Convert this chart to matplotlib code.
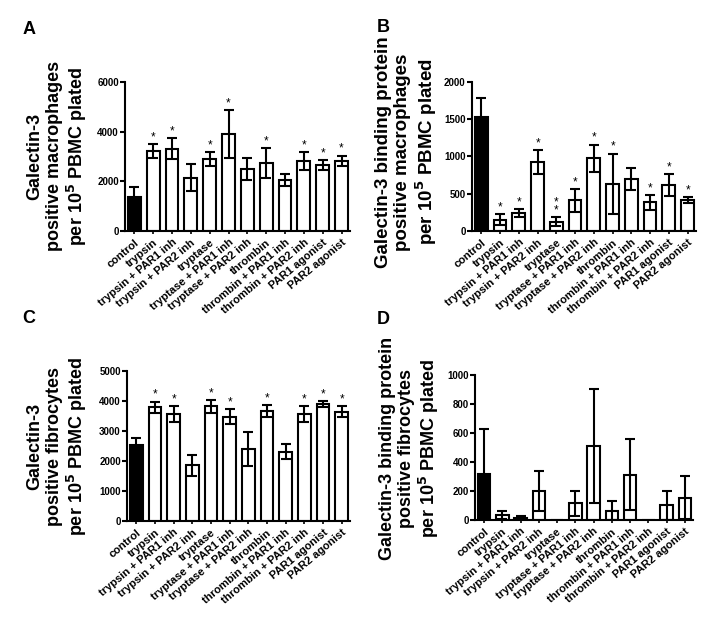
import matplotlib
matplotlib.use("Agg")
import matplotlib.pyplot as plt
import numpy as np

plt.rcParams['font.family'] = ['Liberation Sans', 'DejaVu Sans']
plt.rcParams['font.weight'] = 'bold'

categories = ["control", "trypsin", "trypsin + PAR1 inh", "trypsin + PAR2 inh",
              "tryptase", "tryptase + PAR1 inh", "tryptase + PAR2 inh",
              "thrombin", "thrombin + PAR1 inh", "thrombin + PAR2 inh",
              "PAR1 agonist", "PAR2 agonist"]

# Panel A
a_mean = [1380, 3210, 3320, 2140, 2900, 3900, 2500, 2740, 2060, 2820, 2650, 2820]
a_err  = [380, 290, 410, 540, 270, 960, 440, 590, 240, 350, 190, 220]
a_star = ["", "*", "*", "", "*", "*", "", "*", "", "*", "*", "*"]

# Panel B
b_mean = [1536, 152, 241, 924, 125, 411, 978, 634, 692, 384, 616, 420]
b_err  = [250, 71, 50, 165, 58, 151, 183, 406, 147, 103, 152, 40]
b_star = ["", "*", "*", "*", "*\n*", "*", "*", "*", "", "*", "*", "*"]

# Panel C
c_mean = [2540, 3790, 3560, 1860, 3820, 3480, 2400, 3670, 2310, 3570, 3900, 3640]
c_err  = [240, 190, 260, 350, 220, 250, 560, 200, 250, 270, 110, 180]
c_star = ["", "*", "*", "", "*", "*", "", "*", "", "*", "*", "*"]

# Panel D
d_mean = [317, 34, 16, 200, 0, 115, 510, 64, 313, 0, 101, 154]
d_err  = [313, 28, 12, 140, 0, 85, 395, 65, 246, 0, 99, 147]
d_star = [""] * 12

panels = [
    ("A", a_mean, a_err, a_star, 6000, [0, 2000, 4000, 6000],
     "Galectin-3\npositive macrophages\nper 10$^5$ PBMC plated"),
    ("B", b_mean, b_err, b_star, 2000, [0, 500, 1000, 1500, 2000],
     "Galectin-3 binding protein\npositive macrophages\nper 10$^5$ PBMC plated"),
    ("C", c_mean, c_err, c_star, 5000, [0, 1000, 2000, 3000, 4000, 5000],
     "Galectin-3\npositive fibrocytes\nper 10$^5$ PBMC plated"),
    ("D", d_mean, d_err, d_star, 1000, [0, 200, 400, 600, 800, 1000],
     "Galectin-3 binding protein\npositive fibrocytes\nper 10$^5$ PBMC plated"),
]

W, H = 718, 638
fig = plt.figure(figsize=(W / 100, H / 100), dpi=100)

# axes rectangles in pixel coords: left, top, right, bottom
rects = {
    "A": (125, 82, 350, 231),
    "B": (472, 82, 696, 231),
    "C": (127, 371, 350, 521),
    "D": (475, 375, 693, 520),
}
ylab_pos = {"A": (58, 156), "B": (407, 152), "C": (58, 446), "D": (410, 448)}
ylab_size = {"A": 13, "B": 13.5, "C": 13, "D": 13}
letter_pos = {"A": (29, 29), "B": (383, 28), "C": (29, 318), "D": (383, 320)}

for letter, mean, err, stars, ymax, yticks, ylabel in panels:
    l, t, r, b = rects[letter]
    ax = fig.add_axes([l / W, 1 - b / H, (r - l) / W, (b - t) / H])
    x = np.arange(len(categories))
    colors = ["black"] + ["white"] * (len(categories) - 1)
    mean_a = np.array(mean, dtype=float)
    err_a = np.array(err, dtype=float)
    ax.bar(x, mean_a, width=0.68, color=colors, edgecolor="black", linewidth=1.5, zorder=2)
    mask = err_a > 0
    ax.errorbar(x[mask], mean_a[mask], yerr=err_a[mask], fmt="none", ecolor="black",
                elinewidth=1.5, capsize=3.6, capthick=1.5, zorder=3)
    for xi, m, e, s in zip(x, mean_a, err_a, stars):
        if s:
            ax.annotate(s, (xi, m + e), xytext=(0, 0.5), textcoords="offset points",
                        ha="center", va="bottom", fontsize=8.5, fontweight="normal",
                        linespacing=0.55)
    ax.set_ylim(0, ymax)
    ax.set_xlim(-0.5, 11.45)
    ax.set_yticks(yticks)
    ax.set_yticklabels([str(v) for v in yticks], fontsize=7, fontweight="bold")
    ax.set_xticks(x)
    ax.set_xticklabels(categories, rotation=40, ha="right", rotation_mode="anchor",
                       fontsize=8, fontweight="bold")
    for sp in ["top", "right"]:
        ax.spines[sp].set_visible(False)
    for sp in ["left", "bottom"]:
        ax.spines[sp].set_linewidth(1.5)
    ax.tick_params(axis="y", length=3.5, width=1.5, pad=1)
    ax.tick_params(axis="x", length=2.5, width=1.2, pad=2)
    lx, ly = ylab_pos[letter]
    fig.text(lx / W, 1 - ly / H, ylabel, rotation=90, ha="center", va="center",
             multialignment="center", fontsize=ylab_size[letter], fontweight="bold",
             linespacing=1.15)
    px, py = letter_pos[letter]
    fig.text(px / W, 1 - py / H, letter, ha="center", va="center", fontsize=13,
             fontweight="bold")

fig.savefig("out.png", dpi=100)
